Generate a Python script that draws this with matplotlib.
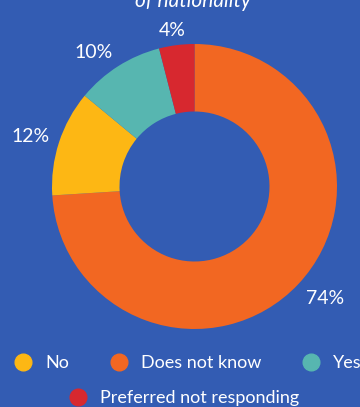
import numpy as np
import matplotlib.pyplot as plt
from matplotlib.lines import Line2D

# answer shares, drawn clockwise from 12 o'clock
answers = ['Does not know', 'No', 'Yes', 'Preferred not responding']
shares = [74, 12, 10, 4]
colors = ['#F26722', '#FDB714', '#57B6B0', '#D7282F']
legend_order = ['No', 'Does not know', 'Yes']

bg = '#335CB3'
plt.rcParams['font.family'] = ['Lato', 'DejaVu Sans']

W, H = 360, 407
fig = plt.figure(figsize=(W / 100, H / 100), dpi=100, facecolor=bg)
ax = fig.add_axes([0, 0, 1, 1])
ax.set_facecolor(bg)

cx, cy, R = 194.5, H - 186.5, 142.5
wedges, _, pct = ax.pie(
    shares, colors=colors, startangle=90, counterclock=False,
    center=(cx, cy), radius=R, frame=True,
    wedgeprops=dict(width=67.5, linewidth=0),
    autopct=lambda p: f'{p:.0f}%', pctdistance=1.2,
    textprops=dict(color='white', fontsize=14),
)
ax.set_xlim(0, W)
ax.set_ylim(0, H)
ax.set_aspect('equal')
ax.axis('off')

# push each percentage just outside the ring, clear of the wedge edge
fig.canvas.draw()
renderer = fig.canvas.get_renderer()
gap = 10
for w, t in zip(wedges, pct):
    ang = np.deg2rad((w.theta1 + w.theta2) / 2)
    c, s = np.cos(ang), np.sin(ang)
    bb = t.get_window_extent(renderer)
    tw, th = bb.width, bb.height * 0.75
    x = cx + (R + gap) * c + tw / 2 * np.clip(2 * c, -1, 1)
    y = cy + (R + gap) * s + th / 2 * np.clip(2 * s, -1, 1)
    t.set_position((x, y))
    t.set_va('center_baseline')

ax.text(193, H - 7, 'of nationality', color='white', fontsize=15,
        style='italic', ha='center', va='baseline')

def handle(name):
    col = colors[answers.index(name)]
    return Line2D([], [], marker='o', linestyle='none', markersize=12,
                  markerfacecolor=col, markeredgecolor=col)

leg_kw = dict(frameon=False, labelcolor='white', prop=dict(size=13),
              handletextpad=0.72, handlelength=1.0,
              borderpad=0, borderaxespad=0)
fig.legend([handle(n) for n in legend_order], legend_order,
           loc='center left', bbox_to_anchor=(14 / W, 1 - 363 / H),
           ncol=3, columnspacing=2.25, **leg_kw)
fig.legend([handle(answers[3])], [answers[3]],
           loc='center left', bbox_to_anchor=(69 / W, 1 - 398 / H), **leg_kw)

fig.savefig('out.png', dpi=100, facecolor=bg)
